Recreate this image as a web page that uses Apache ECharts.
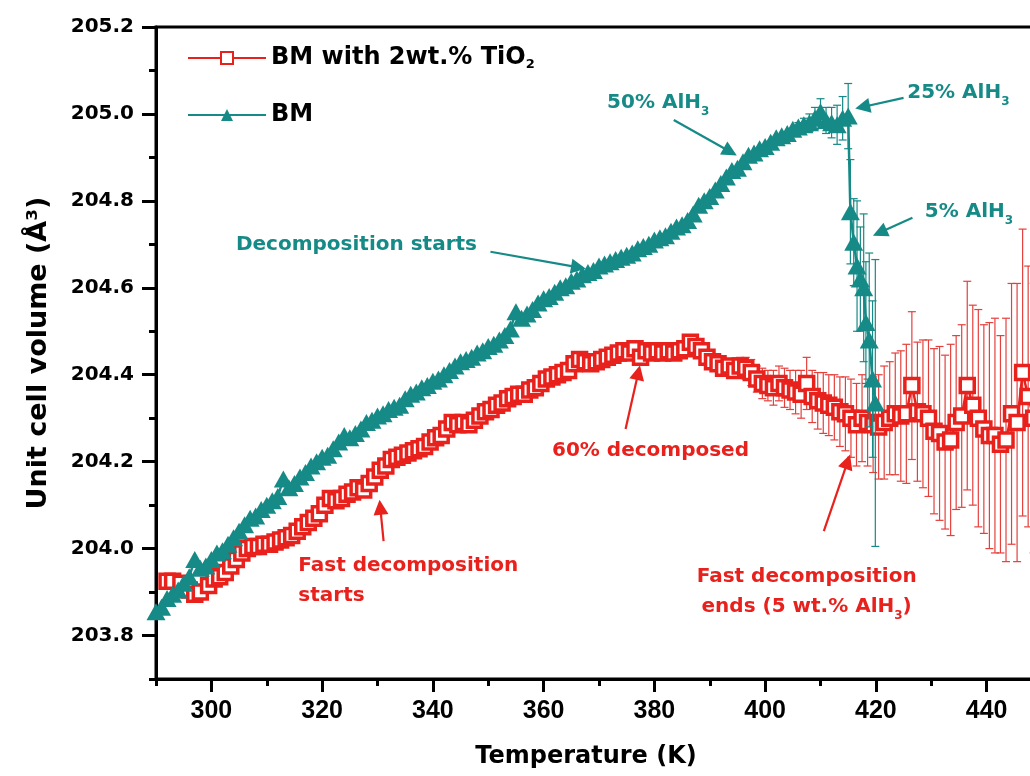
<!DOCTYPE html>
<html>
<head>
<meta charset="utf-8">
<script src="https://cdn.jsdelivr.net/npm/echarts@6/dist/echarts.min.js"></script>
<style>
html, body { margin: 0; padding: 0; background: #fff; }
#root { width: 1030px; height: 776px; }
</style>
</head>
<body>
<div id="root"></div>
<script>
// axis ticks
var xLabelTicks = [300, 320, 340, 360, 380, 400, 420, 440];
var xMinorTicks = [290, 310, 330, 350, 370, 390, 410, 430, 450];
var yLabelTicks = [203.8, 204.0, 204.2, 204.4, 204.6, 204.8, 205.0, 205.2];
var yMinorTicks = [203.7, 203.9, 204.1, 204.3, 204.5, 204.7, 204.9, 205.1];

// BM with 2wt.% TiO2 (red squares)
var tiTemp = [292.0, 293.0, 294.5, 296.0, 297.0, 298.0, 299.5, 300.5, 301.5, 302.5, 303.5, 304.5, 305.5, 306.5, 307.5, 308.5, 309.5, 310.5, 311.5, 312.5,
    313.5, 314.5, 315.5, 316.5, 317.5, 318.5, 319.5, 320.5, 321.5, 322.5, 323.5, 324.5, 325.5, 326.5, 327.5, 328.5, 329.5, 330.5, 331.5, 332.5,
    333.5, 334.5, 335.5, 336.5, 337.5, 338.5, 339.5, 340.5, 341.5, 342.5, 343.5, 344.5, 345.5, 346.5, 347.5, 348.5, 349.5, 350.5, 351.5, 352.5,
    353.5, 354.5, 355.5, 356.5, 357.5, 358.5, 359.5, 360.5, 361.5, 362.5, 363.5, 364.5, 365.5, 366.5, 367.5, 368.5, 369.5, 370.5, 371.5, 372.5,
    373.5, 374.5, 375.5, 376.5, 377.5, 378.5, 379.5, 380.5, 381.5, 382.5, 383.5, 384.5, 385.5, 386.5, 387.5, 388.5, 389.5, 390.5, 391.5, 392.5,
    393.5, 394.5, 395.5, 396.5, 397.5, 398.5, 399.5, 400.5, 401.5, 402.5, 403.5, 404.5, 405.5, 406.5, 407.5, 408.5, 409.5, 410.5, 411.5, 412.5,
    413.5, 414.5, 415.5, 416.5, 417.5, 418.5, 419.5, 420.5, 421.5, 422.5, 423.5, 424.5, 425.5, 426.5, 427.5, 428.5, 429.5, 430.5, 431.5, 432.5,
    433.5, 434.5, 435.5, 436.5, 437.5, 438.5, 439.5, 440.5, 441.5, 442.5, 443.5, 444.5, 445.5, 446.5, 447.5, 448.5];
var tiVol = [203.925, 203.925, 203.92, 203.905, 203.895, 203.90, 203.915, 203.93, 203.935, 203.945, 203.96, 203.975, 203.99, 204.0, 204.005, 204.005, 204.01, 204.01, 204.015, 204.02,
    204.025, 204.03, 204.04, 204.05, 204.06, 204.07, 204.08, 204.10, 204.115, 204.11, 204.115, 204.125, 204.13, 204.14, 204.135, 204.15, 204.165, 204.18, 204.19, 204.205,
    204.21, 204.215, 204.22, 204.225, 204.23, 204.235, 204.245, 204.255, 204.26, 204.275, 204.29, 204.285, 204.29, 204.285, 204.295, 204.305, 204.315, 204.32, 204.33, 204.335,
    204.345, 204.35, 204.355, 204.355, 204.365, 204.37, 204.38, 204.39, 204.395, 204.40, 204.405, 204.41, 204.425, 204.435, 204.43, 204.425, 204.43, 204.435, 204.44, 204.445,
    204.45, 204.455, 204.45, 204.46, 204.44, 204.455, 204.45, 204.455, 204.45, 204.455, 204.45, 204.455, 204.46, 204.475, 204.465, 204.455, 204.44, 204.43, 204.425, 204.415,
    204.42, 204.41, 204.42, 204.415, 204.405, 204.39, 204.38, 204.375, 204.37, 204.38, 204.37, 204.365, 204.36, 204.355, 204.38, 204.35, 204.34, 204.335, 204.33, 204.325,
    204.315, 204.31, 204.30, 204.285, 204.30, 204.29, 204.285, 204.28, 204.29, 204.30, 204.31, 204.305, 204.31, 204.375, 204.315, 204.31, 204.30, 204.27, 204.265, 204.245,
    204.25, 204.29, 204.305, 204.375, 204.33, 204.30, 204.275, 204.26, 204.26, 204.24, 204.25, 204.31, 204.29, 204.405, 204.35, 204.30];
var tiErr = [0, 0, 0, 0, 0, 0, 0, 0, 0, 0, 0, 0, 0, 0, 0, 0, 0, 0, 0, 0,
    0, 0, 0, 0, 0, 0, 0, 0, 0, 0, 0, 0, 0, 0, 0, 0, 0, 0, 0, 0,
    0, 0, 0, 0, 0, 0, 0, 0, 0, 0, 0, 0, 0, 0, 0, 0, 0, 0, 0, 0,
    0, 0, 0, 0, 0, 0, 0, 0, 0, 0, 0, 0, 0, 0, 0, 0, 0, 0, 0, 0,
    0, 0, 0, 0, 0, 0, 0, 0, 0, 0, 0, 0, 0, 0, 0, 0.005, 0.008, 0.01, 0.012, 0.015,
    0.015, 0.018, 0.02, 0.025, 0.03, 0.03, 0.035, 0.035, 0.04, 0.04, 0.045, 0.045, 0.05, 0.055, 0.06, 0.06, 0.065, 0.07, 0.07, 0.075,
    0.08, 0.085, 0.09, 0.095, 0.10, 0.10, 0.11, 0.12, 0.13, 0.13, 0.14, 0.15, 0.16, 0.17, 0.16, 0.17, 0.18, 0.19, 0.20, 0.20,
    0.22, 0.20, 0.21, 0.24, 0.23, 0.25, 0.24, 0.26, 0.27, 0.25, 0.28, 0.30, 0.32, 0.33, 0.30, 0.31];

// BM (teal triangles)
var bmTemp = [290, 291, 292, 293, 294, 295, 296, 297, 298, 299, 300, 301, 302, 303, 304, 305, 306, 307, 308, 309,
    310, 311, 312, 313, 314, 315, 316, 317, 318, 319, 320, 321, 322, 323, 324, 325, 326, 327, 328, 329,
    330, 331, 332, 333, 334, 335, 336, 337, 338, 339, 340, 341, 342, 343, 344, 345, 346, 347, 348, 349,
    350, 351, 352, 353, 354, 355, 356, 357, 358, 359, 360, 361, 362, 363, 364, 365, 366, 367, 368, 369,
    370, 371, 372, 373, 374, 375, 376, 377, 378, 379, 380, 381, 382, 383, 384, 385, 386, 387, 388, 389,
    390, 391, 392, 393, 394, 395, 396, 397, 398, 399, 400, 401, 402, 403, 404, 405, 406, 407, 408, 409,
    410, 411, 412, 413, 414, 415.0, 415.4, 416.0, 416.6, 417.2, 417.8, 418.2, 418.8, 419.4, 419.9];
var bmVol = [203.855, 203.865, 203.885, 203.895, 203.905, 203.92, 203.935, 203.975, 203.955, 203.96, 203.975, 203.99, 203.995, 204.01, 204.025, 204.04, 204.055, 204.07, 204.075, 204.09,
    204.10, 204.11, 204.12, 204.16, 204.14, 204.15, 204.165, 204.175, 204.19, 204.20, 204.21, 204.215, 204.23, 204.245, 204.26, 204.255, 204.265, 204.275, 204.29, 204.295,
    204.305, 204.31, 204.32, 204.325, 204.33, 204.345, 204.355, 204.36, 204.37, 204.375, 204.385, 204.39, 204.40, 204.41, 204.42, 204.43, 204.435, 204.44, 204.45, 204.455,
    204.465, 204.47, 204.48, 204.49, 204.505, 204.545, 204.53, 204.54, 204.55, 204.565, 204.575, 204.58, 204.59, 204.60, 204.605, 204.615, 204.62, 204.63, 204.635, 204.64,
    204.65, 204.655, 204.66, 204.665, 204.67, 204.675, 204.68, 204.69, 204.695, 204.70, 204.71, 204.715, 204.72, 204.73, 204.74, 204.745, 204.755, 204.77, 204.79, 204.80,
    204.81, 204.825, 204.84, 204.855, 204.87, 204.875, 204.89, 204.905, 204.91, 204.92, 204.925, 204.935, 204.945, 204.95, 204.955, 204.965, 204.97, 204.975, 204.98, 204.99,
    205.005, 204.985, 204.98, 204.975, 204.99, 204.995, 204.775, 204.705, 204.65, 204.62, 204.60, 204.52, 204.48, 204.39, 204.335];
var bmErr = [0, 0, 0, 0, 0, 0, 0, 0, 0, 0, 0, 0, 0, 0, 0, 0, 0, 0, 0, 0,
    0, 0, 0, 0, 0, 0, 0, 0, 0, 0, 0, 0, 0, 0, 0, 0, 0, 0, 0, 0,
    0, 0, 0, 0, 0, 0, 0, 0, 0, 0, 0, 0, 0, 0, 0, 0, 0, 0, 0, 0,
    0, 0, 0, 0, 0, 0, 0, 0, 0, 0, 0, 0, 0, 0, 0, 0, 0, 0, 0, 0,
    0, 0, 0, 0, 0, 0, 0, 0, 0, 0, 0, 0, 0, 0, 0, 0, 0, 0, 0, 0,
    0, 0, 0, 0, 0, 0, 0, 0, 0, 0, 0, 0, 0, 0, 0, 0, 0.01, 0.015, 0.02, 0.025,
    0.03, 0.03, 0.035, 0.045, 0.05, 0.075, 0.12, 0.10, 0.15, 0.12, 0.17, 0.14, 0.20, 0.18, 0.33];

// annotations: [text, T, V]
var tealNotes = [
    ['50% AlH{st|3}', 380.7, 205.025],
    ['25% AlH{st|3}', 434.9, 205.048],
    ['5% AlH{st|3}', 436.8, 204.775],
    ['Decomposition starts', 326.2, 204.70]
];
// arrows: [fromT, fromV, toT, toV]
var tealArrows = [
    [383.5, 204.986, 393.7, 204.913],
    [425.0, 205.037, 417.6, 205.016],
    [426.6, 204.761, 420.7, 204.727],
    [350.4, 204.683, 366.3, 204.647]
];
var redNotes = [
    ['60% decomposed', 379.3, 204.226],
    ['Fast decomposition\nends (5 wt.% AlH{sr|3})', 407.5, 203.90]
];
var redNotesLeft = [
    ['Fast decomposition\nstarts', 315.7, 203.926]
];
var redArrows = [
    [374.8, 204.275, 377.1, 204.405],
    [331.1, 204.017, 330.5, 204.095],
    [410.6, 204.04, 414.9, 204.20]
];

var TEAL = '#168a86';
var RED = '#e8211d';
var FONT = "'DejaVu Sans', Arial, sans-serif";

function zip(xs, ys) {
    return xs.map(function (x, i) { return [x, ys[i]]; });
}
function bars(xs, ys, es) {
    var out = [];
    xs.forEach(function (x, i) {
        if (es[i] > 0) out.push([x, ys[i] - es[i], ys[i] + es[i]]);
    });
    return out;
}
function errorBarItem(params, api) {
    var x = api.value(0);
    var top = api.coord([x, api.value(2)]);
    var bot = api.coord([x, api.value(1)]);
    var w = 4;
    var style = { stroke: api.visual('color'), lineWidth: 1.2 };
    return {
        type: 'group',
        children: [
            { type: 'line', shape: { x1: top[0], y1: top[1], x2: bot[0], y2: bot[1] }, style: style },
            { type: 'line', shape: { x1: top[0] - w, y1: top[1], x2: top[0] + w, y2: top[1] }, style: style },
            { type: 'line', shape: { x1: bot[0] - w, y1: bot[1], x2: bot[0] + w, y2: bot[1] }, style: style }
        ]
    };
}
var subRich = {
    st: { fontSize: 12, fontWeight: 'bold', fontFamily: FONT, color: TEAL, lineHeight: 12, verticalAlign: 'bottom' },
    sr: { fontSize: 12, fontWeight: 'bold', fontFamily: FONT, color: RED, lineHeight: 12, verticalAlign: 'bottom' }
};
function notePoints(list, align) {
    return list.map(function (n) {
        return {
            coord: [n[1], n[2]],
            label: { formatter: n[0], align: align }
        };
    });
}
function arrowLines(list) {
    return list.map(function (a) {
        return [{ coord: [a[0], a[1]] }, { coord: [a[2], a[3]] }];
    });
}
function markPointOpt(data, color) {
    return {
        symbol: 'circle',
        symbolSize: 0,
        silent: true,
        animation: false,
        label: {
            show: true,
            position: 'inside',
            verticalAlign: 'middle',
            color: color,
            fontFamily: FONT,
            fontWeight: 'bold',
            fontSize: 20,
            lineHeight: 30,
            rich: subRich
        },
        data: data
    };
}
function markLineOpt(list, color) {
    return {
        symbol: ['none', 'triangle'],
        symbolSize: 15,
        silent: true,
        animation: false,
        label: { show: false },
        lineStyle: { color: color, width: 2.2, type: 'solid' },
        data: arrowLines(list)
    };
}

var chart = echarts.init(document.getElementById('root'));
var axisLineStyle = { color: '#000', width: 3 };
var option = {
    animation: false,
    backgroundColor: '#fff',
    grid: {
        left: 156, top: 27, width: 886, height: 652,
        show: true, borderColor: '#000', borderWidth: 3,
        outerBoundsMode: 'none', containLabel: false
    },
    legend: {
        orient: 'vertical',
        left: 182,
        top: 40,
        itemWidth: 78,
        itemHeight: 15,
        itemGap: 31,
        data: ['BM with 2wt.% TiO2', 'BM'],
        formatter: function (name) {
            return name === 'BM' ? name : 'BM with 2wt.% TiO{sub|2}';
        },
        textStyle: {
            color: '#000', fontFamily: FONT, fontWeight: 'bold', fontSize: 24, lineHeight: 26,
            rich: { sub: { fontSize: 13, fontWeight: 'bold', fontFamily: FONT, color: '#000', lineHeight: 12, verticalAlign: 'bottom' } }
        }
    },
    xAxis: [{
        type: 'value', min: 290, max: 450, position: 'bottom',
        name: 'Temperature (K)', nameLocation: 'middle', nameGap: 66,
        nameTextStyle: { fontFamily: FONT, fontWeight: 'bold', fontSize: 24, color: '#000', padding: [0, 26, 0, 0] },
        axisLine: { onZero: false, lineStyle: axisLineStyle },
        axisTick: { customValues: xLabelTicks, length: 13, lineStyle: { width: 3, color: '#000' } },
        axisLabel: {
            customValues: xLabelTicks, margin: 20, color: '#000',
            fontFamily: "'Liberation Sans Narrow', 'Liberation Sans', Arial", fontWeight: 'bold', fontSize: 25
        },
        splitLine: { show: false }
    }, {
        type: 'value', min: 290, max: 450, position: 'bottom',
        axisLine: { show: false },
        axisTick: { customValues: xMinorTicks, length: 7, lineStyle: { width: 3, color: '#000' } },
        axisLabel: { show: false },
        splitLine: { show: false }
    }],
    yAxis: [{
        type: 'value', min: 203.7, max: 205.2, position: 'left',
        name: 'Unit cell volume (Å³)', nameLocation: 'middle', nameGap: 104, nameRotate: 90,
        nameTextStyle: { fontFamily: FONT, fontWeight: 'bold', fontSize: 27, color: '#000' },
        axisLine: { onZero: false, lineStyle: axisLineStyle },
        axisTick: { customValues: yLabelTicks, length: 14, lineStyle: { width: 3, color: '#000' } },
        axisLabel: {
            customValues: yLabelTicks, margin: 22, color: '#000',
            fontFamily: FONT, fontWeight: 'bold', fontSize: 20,
            formatter: function (v) { return v.toFixed(1); }
        },
        splitLine: { show: false }
    }, {
        type: 'value', min: 203.7, max: 205.2, position: 'left',
        axisLine: { show: false },
        axisTick: { customValues: yMinorTicks, length: 7, lineStyle: { width: 3, color: '#000' } },
        axisLabel: { show: false },
        splitLine: { show: false }
    }],
    series: [
        {
            name: 'TiO2 err', type: 'custom', renderItem: errorBarItem,
            itemStyle: { color: '#e4403c' }, silent: true, z: 1,
            encode: { x: 0, y: [1, 2] },
            data: bars(tiTemp, tiVol, tiErr)
        },
        {
            name: 'BM with 2wt.% TiO2', type: 'line', z: 2,
            data: zip(tiTemp, tiVol),
            symbol: 'rect', symbolSize: 14, showAllSymbol: true,
            lineStyle: { color: RED, width: 2.5 },
            itemStyle: { color: '#fff', borderColor: RED, borderWidth: 3.5 },
            markPoint: markPointOpt(notePoints(redNotes, 'center').concat(notePoints(redNotesLeft, 'left')), RED),
            markLine: markLineOpt(redArrows, RED)
        },
        {
            name: 'BM err', type: 'custom', renderItem: errorBarItem,
            itemStyle: { color: TEAL }, silent: true, z: 3,
            encode: { x: 0, y: [1, 2] },
            data: bars(bmTemp, bmVol, bmErr)
        },
        {
            name: 'BM', type: 'line', z: 4,
            data: zip(bmTemp, bmVol),
            symbol: 'triangle', symbolSize: [19, 17], showAllSymbol: true,
            lineStyle: { color: TEAL, width: 2.5 },
            itemStyle: { color: TEAL },
            markPoint: markPointOpt(notePoints(tealNotes, 'center'), TEAL),
            markLine: markLineOpt(tealArrows, TEAL)
        }
    ]
};
chart.setOption(option);
</script>
</body>
</html>
